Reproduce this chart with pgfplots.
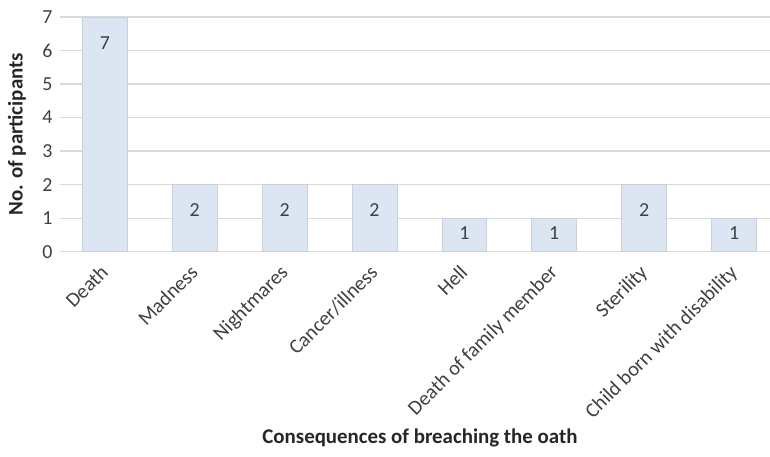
\documentclass[border=0pt]{standalone}
\usepackage{fontspec}
\setmainfont{Carlito}
\usepackage{pgfplots}
\pgfplotsset{compat=1.18}
\definecolor{barfill}{HTML}{DCE6F2}
\definecolor{baredge}{HTML}{C9D1DA}
\definecolor{gridgray}{HTML}{D9D9D9}
\definecolor{txt}{HTML}{404040}
\definecolor{lbl}{HTML}{262626}
\begin{document}
\begin{tikzpicture}
\begin{axis}[
  scale only axis, width=711bp, height=235bp,
  xmin=-0.5, xmax=7.4, ymin=0, ymax=7,
  ytick={0,...,7},
  xtick={0,...,7},
  xticklabels={Death, Madness, Nightmares, Cancer/illness, Hell, Death of family member, Sterility, Child born with disability},
  ymajorgrids, grid style={gridgray, line width=1.2bp},
  axis line style={draw=none},
  major tick length=0pt,
  /pgf/number format/assume math mode=true,
  tick label style={text=txt},
  yticklabel style={font=\fontsize{20}{22}\selectfont, xshift=-4bp},
  xticklabel style={font=\fontsize{20.5}{22}\selectfont, rotate=45, anchor=north east, xshift=-9bp, yshift=-1bp},
  ylabel={No. of participants},
  ylabel style={font=\fontsize{21}{23}\selectfont\bfseries, text=lbl, at={(axis description cs:0,0.5)}, rotate=0, anchor=center, yshift=43bp},
  xlabel={Consequences of breaching the oath},
  xlabel style={font=\fontsize{21}{23}\selectfont\bfseries, text=lbl, at={(axis description cs:0.5,0)}, xshift=5bp, yshift=-187bp, anchor=center},
  clip=false,
]
\addplot[ybar, bar width=45bp, fill=barfill, draw=baredge, line width=0.8bp,
  nodes near coords,
  visualization depends on={rawy \as \rawy},
  nodes near coords style={anchor=center, font=\fontsize{20}{22}\selectfont, text=txt,
    /pgf/number format/assume math mode=true,
    yshift={\rawy>1.5 ? -26 : -15}},
] coordinates {(0,7) (1,2) (2,2) (3,2) (4,1) (5,1) (6,2) (7,1)};
\end{axis}
\pgfresetboundingbox
\path[use as bounding box] (-60bp,-205bp) rectangle (711bp,252bp);
\end{tikzpicture}
\end{document}
